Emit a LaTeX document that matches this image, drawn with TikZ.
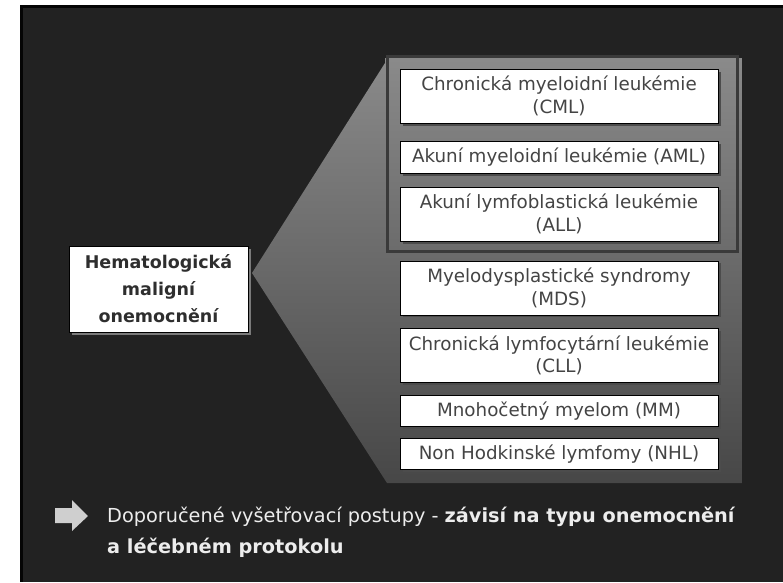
\documentclass[tikz,border=0pt]{standalone}
\usepackage{fontspec}
\setmainfont{DejaVu Sans}
\usepackage{tikz}
\usetikzlibrary{positioning,shadows}
\definecolor{slide}{HTML}{222222}
\definecolor{frameblack}{HTML}{050505}
\definecolor{paneltop}{HTML}{8A8A8A}
\definecolor{panelbot}{HTML}{474747}
\definecolor{grpline}{HTML}{3A3A3A}
\definecolor{boxtext}{HTML}{444444}
\definecolor{hematext}{HTML}{2E2E2E}
\definecolor{boxshadow}{HTML}{4C4C4C}
\definecolor{hemashadow}{HTML}{7A7A7A}
\definecolor{bulletgray}{HTML}{CFCFCF}
\definecolor{notetext}{HTML}{EDEDED}

\begin{document}
\begin{tikzpicture}[x=1pt,y=-1pt,
  disease/.style={draw=black,line width=0.8pt,fill=white,minimum width=318pt,inner sep=2pt,align=center,text=boxtext,font=\fontsize{18.3}{22.5}\selectfont,drop shadow={shadow xshift=2.5pt,shadow yshift=-2.5pt,fill=boxshadow,opacity=1}},
  two/.style={minimum height=54pt},
  one/.style={minimum height=31.5pt},
  hema/.style={draw=black,line width=0.8pt,fill=white,minimum width=179pt,minimum height=86pt,align=center,text=hematext,font=\bfseries\fontsize{17.5}{27}\selectfont,drop shadow={shadow xshift=3pt,shadow yshift=-3pt,fill=hemashadow,opacity=1}},
  note/.style={anchor=west,align=left,inner sep=0pt,text=notetext,font=\fontsize{19.3}{31}\selectfont}
]
  % slide background
  \fill[white] (0,0) rectangle (783,582);
  \fill[frameblack] (20,5) rectangle (783,582);
  \fill[slide] (23,8) rectangle (783,582);
  \useasboundingbox (0,0) rectangle (783,582);

  % funnel and panel
  \shade[top color=paneltop,bottom color=panelbot] (252,273) -- (385,63) -- (385,58) -- (742,58) -- (742,483) -- (387,483) -- cycle;
  \draw[grpline,line width=3pt] (387.5,56.5) rectangle (737.5,251);

  \node[hema] (hema) at (158.5,289) {Hematologická\\maligní\\onemocnění};

  \node[disease,two] (cml) at (559,96) {Chronická myeloidní leukémie\\(CML)};
  \node[disease,one,below=18pt of cml] (aml) {Akuní myeloidní leukémie (AML)};
  \node[disease,two,below=13pt of aml] (all) {Akuní lymfoblastická leukémie\\(ALL)};
  \node[disease,two,below=19pt of all] (mds) {Myelodysplastické syndromy\\(MDS)};
  \node[disease,two,below=12.5pt of mds] (cll) {Chronická lymfocytární leukémie\\(CLL)};
  \node[disease,one,below=12pt of cll] (mm) {Mnohočetný myelom (MM)};
  \node[disease,one,below=11pt of mm] (nhl) {Non Hodkinské lymfomy (NHL)};

  % bottom note
  \fill[bulletgray] (55,508) -- (72,508) -- (72,500) -- (88,516) -- (72,531) -- (72,523) -- (55,523) -- cycle;
  \node[note] (note) at (107,532) {Doporučené vyšetřovací postupy - \textbf{závisí na typu onemocnění}\\\textbf{a léčebném protokolu}};
\end{tikzpicture}
\end{document}
